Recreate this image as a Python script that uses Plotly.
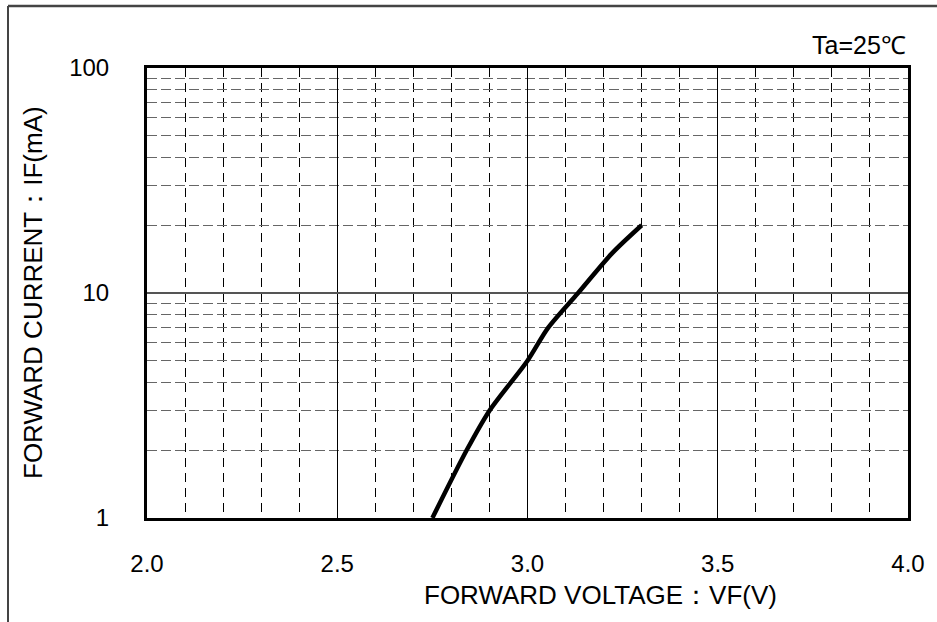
import plotly.graph_objects as go

vf = [2.75, 2.84, 2.90, 3.00, 3.054, 3.133, 3.222, 3.30]
i_f = [1, 2, 3, 5, 7, 10, 15, 20]

x_ticks = [2.0, 2.5, 3.0, 3.5, 4.0]
x_tick_labels = ["2.0", "2.5", "3.0", "3.5", "4.0"]
y_ticks = [1, 10, 100]
y_tick_labels = ["1", "10", "100"]

FONT = "Liberation Sans, Arial, sans-serif"

fig = go.Figure()
fig.add_trace(go.Scatter(x=vf, y=i_f, mode="lines",
                         line=dict(color="black", width=4.5, shape="spline", smoothing=0.8),
                         showlegend=False, hoverinfo="skip"))

fig.update_xaxes(range=[2.0, 4.0], tickvals=x_ticks, ticktext=x_tick_labels,
                 showgrid=True, gridcolor="black", gridwidth=1,
                 minor=dict(dtick=0.1, showgrid=True, gridcolor="black",
                            griddash="9px,6px", gridwidth=1, ticks=""),
                 showline=True, linecolor="black", linewidth=3, mirror=True,
                 ticks="", ticklabelstandoff=22, zeroline=False,
                 tickfont=dict(family=FONT, size=24, color="black"))
fig.update_yaxes(type="log", range=[0, 2], tickvals=y_ticks, ticktext=y_tick_labels,
                 showgrid=True, gridcolor="#555555", gridwidth=1.5,
                 minor=dict(dtick="D1", showgrid=True, gridcolor="#666666",
                            griddash="10px,4px", gridwidth=1.3, ticks=""),
                 showline=True, linecolor="black", linewidth=3, mirror=True,
                 ticks="", ticklabelstandoff=30, zeroline=False,
                 tickfont=dict(family=FONT, size=24, color="black"))

fig.add_annotation(text="FORWARD VOLTAGE：VF(V)", xref="paper", yref="paper",
                   x=(600 - 147) / 761, y=-(595 - 518) / 450, xanchor="center", yanchor="middle",
                   showarrow=False, font=dict(family=FONT, size=26, color="black"))
fig.add_annotation(text="FORWARD CURRENT：IF(mA)", xref="paper", yref="paper",
                   x=-(147 - 33) / 761, y=0.5, xanchor="center", yanchor="middle",
                   textangle=-90, showarrow=False,
                   font=dict(family=FONT, size=26, color="black"))
fig.add_annotation(text="Ta=25℃", xref="paper", yref="paper",
                   x=1.0, y=(518 - 45) / 450, xanchor="right", yanchor="middle",
                   showarrow=False, font=dict(family=FONT, size=25, color="black"))

# outer frame (top and left)
fig.add_shape(type="line", xref="paper", yref="paper",
              x0=-(147 - 8) / 761, x1=(937 - 147) / 761, y0=(518 - 6) / 450, y1=(518 - 6) / 450,
              line=dict(color="#444444", width=2.5))
fig.add_shape(type="line", xref="paper", yref="paper",
              x0=-(147 - 8) / 761, x1=-(147 - 8) / 761, y0=(518 - 6) / 450, y1=-(622 - 518) / 450,
              line=dict(color="#444444", width=2))

fig.update_layout(width=937, height=622,
                  margin=dict(l=147, r=29, t=68, b=104),
                  paper_bgcolor="white", plot_bgcolor="white",
                  showlegend=False)

fig.write_html("out.html", config={"displayModeBar": False},
               post_script="document.body.style.margin='0px';document.body.style.overflow='hidden';")
